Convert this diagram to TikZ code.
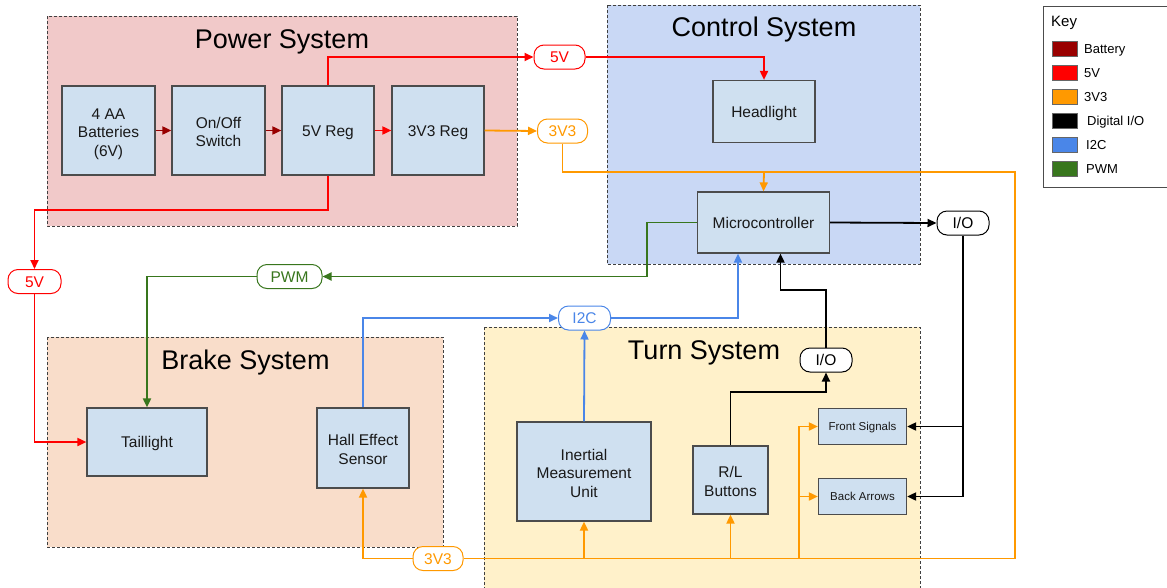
\documentclass[tikz,border=0pt]{standalone}
\usepackage{fontspec}
\setmainfont{Liberation Sans}
\usetikzlibrary{arrows.meta}

% signal colours
\definecolor{cbat}{HTML}{990000}
\definecolor{cfive}{HTML}{FF0000}
\definecolor{cthree}{HTML}{FF9900}
\definecolor{cdig}{HTML}{000000}
\definecolor{ciic}{HTML}{4A86E8}
\definecolor{cpwm}{HTML}{38761D}
% area and block fills
\definecolor{fpow}{HTML}{F1C9C9}
\definecolor{fctl}{HTML}{C9D8F5}
\definecolor{fbrk}{HTML}{F9DDCA}
\definecolor{fturn}{HTML}{FFF1CA}
\definecolor{fblk}{HTML}{CFE0F0}

% strut that centres capitals vertically in a line of text
\newcommand{\capstrut}{\rule[-0.212em]{0pt}{1.14em}}
% stacked block text, capitals centred in the block
\newcommand{\lines}[1]{\begin{tabular}{@{}c@{}}\rule{0pt}{20pt}#1\end{tabular}}

\begin{document}
\begin{tikzpicture}[x=1pt,y=-1pt,
  grp/.style={draw=black!75, dash pattern=on 3pt off 2pt, line width=0.8pt},
  ttl/.style={font=\fontsize{27}{30}\selectfont, inner sep=0pt},
  blk/.style={draw=black!70, fill=fblk, line width=1.2pt, inner sep=0pt,
    font=\fontsize{15.5}{18.5}\selectfont, text=black!90},
  one/.style={execute at begin node=\capstrut},
  small/.style={font=\fontsize{11.5}{13}\selectfont},
  pill/.style={draw=#1, text=#1, fill=white, rounded corners=10pt,
    line width=1pt, inner sep=0pt, minimum height=24pt,
    font=\fontsize{15.5}{18}\selectfont,
    execute at begin node=\capstrut},
  wire/.style={draw=#1, line width=1.8pt, -{Triangle[length=9pt,width=8pt]}},
  plain/.style={draw=#1, line width=1.8pt},
  swatch/.style={draw=black!60, fill=#1, line width=0.8pt, minimum width=25pt,
    minimum height=15pt, inner sep=0pt},
  keytxt/.style={font=\fontsize{13}{15}\selectfont, anchor=west, inner sep=0pt,
    execute at begin node=\capstrut}
]
\useasboundingbox (0,0) rectangle (1167,587);

% ---------- system areas ----------
\draw[grp, fill=fpow]  (47,16)   rectangle (517,226);
\draw[grp, fill=fctl]  (607,5)   rectangle (920,264);
\draw[grp, fill=fbrk]  (47,337)  rectangle (443,547);
\draw[grp, fill=fturn] (484,327) rectangle (920,600);

\node[ttl] (tpow)  at (282,42)  {Power System};
\node[ttl] (tctl)  at (764,30)  {Control System};
\node[ttl] (tbrk)  at (245.5,363) {Brake System};
\node[ttl] (tturn) at (704,352.5) {Turn System};

% ---------- blocks ----------
\node[blk, minimum width=93pt, minimum height=89pt] (bat) at (108.5,130.5) {\lines{4 AA\\Batteries\\(6V)}};
\node[blk, minimum width=93pt, minimum height=89pt] (sw)  at (218.5,130.5) {\lines{On/Off\\Switch}};
\node[blk, one, minimum width=92pt, minimum height=89pt] (reg5)  at (328,130.5) {5V Reg};
\node[blk, one, minimum width=92pt, minimum height=89pt] (reg33) at (438,130.5) {3V3 Reg};

\node[blk, one, minimum width=102pt, minimum height=62pt] (head) at (764,111.5)   {Headlight};
\node[blk, one, minimum width=132pt, minimum height=61pt] (mcu)  at (763.5,222.5) {Microcontroller};

\node[blk, one, minimum width=120pt, minimum height=68pt] (tail) at (147,442) {Taillight};
\node[blk, minimum width=92pt, minimum height=80pt] (hall) at (363,448) {\lines{Hall Effect\\Sensor}};

\node[blk, minimum width=134pt, minimum height=99pt] (imu) at (584,471.5) {\lines{Inertial\\Measurement\\Unit}};
\node[blk, minimum width=75pt, minimum height=68pt] (rl)   at (730.5,480) {\lines{R/L\\Buttons}};
\node[blk, one, small, minimum width=88pt, minimum height=36pt] (front) at (862.5,426.5) {Front Signals};
\node[blk, one, small, minimum width=88pt, minimum height=36pt] (back)  at (862.5,496.5) {Back Arrows};

% ---------- line labels ----------
\node[pill=cfive,  minimum width=51pt] (p5a)  at (559.5,57)  {5V};
\node[pill=cfive,  minimum width=53pt] (p5b)  at (34.5,281.5) {5V};
\node[pill=cthree, minimum width=50pt] (p33a) at (562.5,131) {3V3};
\node[pill=cthree, minimum width=50pt] (p33b) at (438,558.5) {3V3};
\node[pill=cpwm,   minimum width=65pt] (pwm)  at (289.5,276.5) {PWM};
\node[pill=ciic,   minimum width=52pt] (iic)  at (584.5,318) {I2C};
\node[pill=cdig,   minimum width=52pt] (io1)  at (963,223)   {I/O};
\node[pill=cdig,   minimum width=52pt] (io2)  at (826,360)   {I/O};

% ---------- battery chain ----------
\draw[wire=cbat]  (bat.east) -- (sw.west);
\draw[wire=cbat]  (sw.east) -- (reg5.west);
\draw[wire=cfive] (reg5.east) -- (reg33.west);

% ---------- 5V ----------
\draw[wire=cfive] (reg5.north) |- (p5a.west);
\draw[wire=cfive] (p5a.east) -| (head.north);
\draw[wire=cfive] (reg5.south) -- (328,210) -| (p5b.north);
\draw[wire=cfive] (p5b.south) |- (tail.west);

% ---------- 3V3 ----------
\draw[wire=cthree] (reg33.east) -- (p33a.west);
\draw[plain=cthree, line join=miter] (p33a.south) |- (1015,172) |- (p33b.east);
\draw[wire=cthree] (764,172) -- (mcu.north);
\draw[wire=cthree] (p33b.west) -| (hall.south);
\draw[wire=cthree] (imu.south |- p33b.east) -- (imu.south);
\draw[wire=cthree] (rl.south |- p33b.east) -- (rl.south);
\draw[wire=cthree] (799,558.5) |- (front.west);
\draw[wire=cthree] (799,496.5) -- (back.west);

% ---------- PWM ----------
\draw[wire=cpwm] (mcu.west) -- (647,222.5) |- (pwm.east);
\draw[wire=cpwm] (pwm.west) -| (tail.north);

% ---------- I2C ----------
\draw[wire=ciic] (hall.north) |- (iic.west);
\draw[wire=ciic] (imu.north) -- (iic.south);
\draw[wire=ciic] (iic.east) -| ([xshift=-25.5pt]mcu.south);

% ---------- digital I/O ----------
\draw[wire=cdig] (mcu.east) -- (io1.west);
\draw[wire=cdig] (io1.south) |- (back.east);
\draw[wire=cdig] (io1.south |- front.east) -- (front.east);
\draw[wire=cdig] (rl.north) -- (730.5,392) -| (io2.south);
\draw[wire=cdig] (io2.north) -- (826,290) -| ([xshift=17pt]mcu.south);

% ---------- key ----------
\draw[draw=black!70, line width=0.9pt, fill=white] (1043,6) rectangle (1172,187);
\node[font=\fontsize{15}{17}\selectfont, anchor=west, inner sep=0pt] (keyt) at (1051,23) {Key};
\node[swatch=cbat]   (k1) at (1064.5,49)  {};
\node[swatch=cfive]  (k2) at (1064.5,73)  {};
\node[swatch=cthree] (k3) at (1064.5,97)  {};
\node[swatch=cdig]   (k4) at (1064.5,121) {};
\node[swatch=ciic]   (k5) at (1064.5,145) {};
\node[swatch=cpwm]   (k6) at (1064.5,169) {};
\node[keytxt] (l1) at (1084,49)  {Battery};
\node[keytxt] (l2) at (1084,73)  {5V};
\node[keytxt] (l3) at (1084,97)  {3V3};
\node[keytxt] (l4) at (1087,121) {Digital I/O};
\node[keytxt] (l5) at (1086,145) {I2C};
\node[keytxt] (l6) at (1086,169) {PWM};
\end{tikzpicture}
\end{document}
